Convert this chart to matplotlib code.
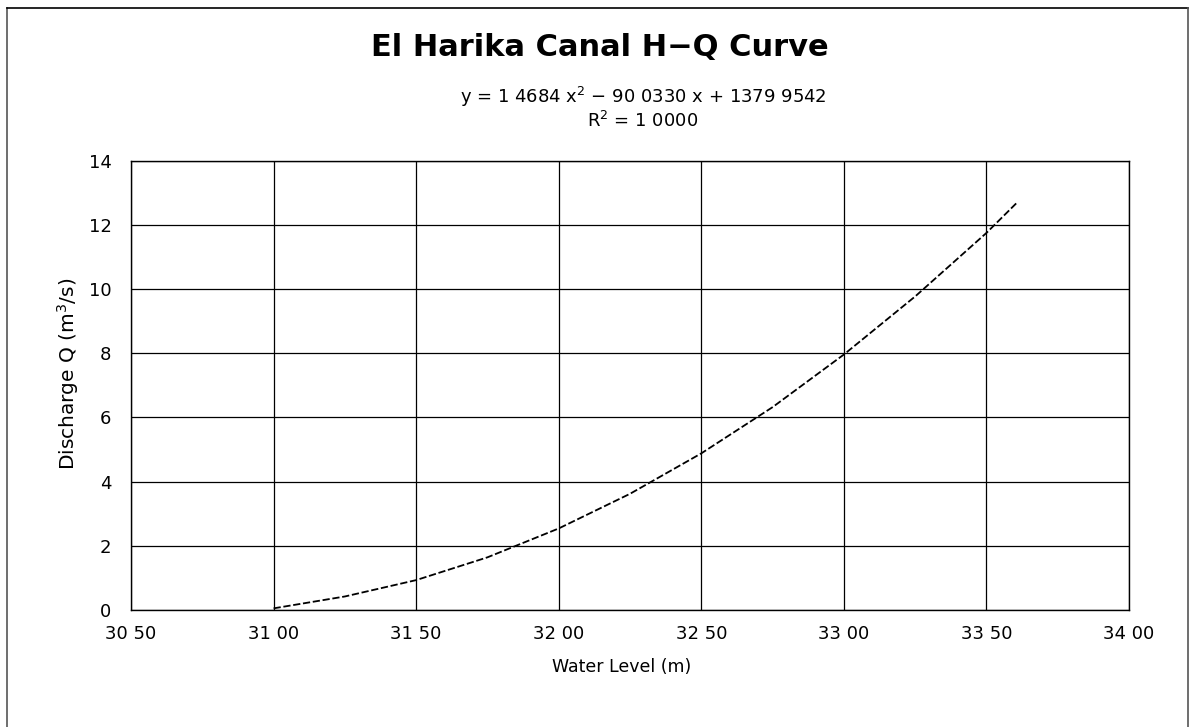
import matplotlib
matplotlib.use("Agg")
import matplotlib.pyplot as plt
from matplotlib.lines import Line2D

water_level = [31.00, 31.25, 31.50, 31.75, 32.00, 32.25, 32.50, 32.75, 33.00, 33.25, 33.50, 33.61]
discharge = [0.05, 0.42, 0.93, 1.64, 2.54, 3.62, 4.88, 6.32, 7.96, 9.77, 11.75, 12.72]

x_ticks = [30.5, 31.0, 31.5, 32.0, 32.5, 33.0, 33.5, 34.0]
x_tick_labels = ["30 50", "31 00", "31 50", "32 00", "32 50", "33 00", "33 50", "34 00"]
y_ticks = [0, 2, 4, 6, 8, 10, 12, 14]

title = "El Harika Canal H\u2212Q Curve"
eq_text = "y = 1 4684 x$^2$ \u2212 90 0330 x + 1379 9542\nR$^2$ = 1 0000"

plt.rcParams["font.family"] = ["DejaVu Sans"]
plt.rcParams["mathtext.fontset"] = "dejavusans"

fig = plt.figure(figsize=(11.91, 7.27), dpi=100)
ax = fig.add_axes([0.110, 0.161, 0.838, 0.618])

ax.plot(water_level, discharge, color="black", lw=1.3, linestyle=(0, (4, 1.5)))

ax.set_xlim(30.5, 34.0)
ax.set_ylim(0, 14)
ax.set_xticks(x_ticks)
ax.set_xticklabels(x_tick_labels)
ax.set_yticks(y_ticks)
ax.tick_params(length=0, labelsize=13)
ax.tick_params(axis="x", pad=11)
ax.tick_params(axis="y", pad=14)
ax.grid(True, color="black", lw=0.9)
ax.set_axisbelow(True)
for sp in ax.spines.values():
    sp.set_color("black")
    sp.set_linewidth(1.0)

ax.set_xlabel("Water Level (m)", fontsize=12.5, va="center")
ax.xaxis.set_label_coords(0.492, -0.127)
ax.set_ylabel("Discharge Q (m$^3$/s)", fontsize=14.5, va="center")
ax.yaxis.set_label_coords(-0.063, 0.526)

fig.text(0.504, 0.935, title, ha="center", va="center", fontsize=22, fontweight="bold")
fig.text(0.540, 0.852, eq_text, ha="center", va="center", fontsize=13, linespacing=1.1)

# outer chart border (left, top, right visible in scan)
fig.add_artist(Line2D([7 / 1191, 7 / 1191], [0, 1 - 8 / 727], transform=fig.transFigure, color="#555555", lw=1.2))
fig.add_artist(Line2D([7 / 1191, 1188 / 1191], [1 - 8 / 727, 1 - 8 / 727], transform=fig.transFigure, color="black", lw=1.2))
fig.add_artist(Line2D([1188 / 1191, 1188 / 1191], [0, 1 - 8 / 727], transform=fig.transFigure, color="#555555", lw=1.2))

fig.savefig("out.png", dpi=100)
